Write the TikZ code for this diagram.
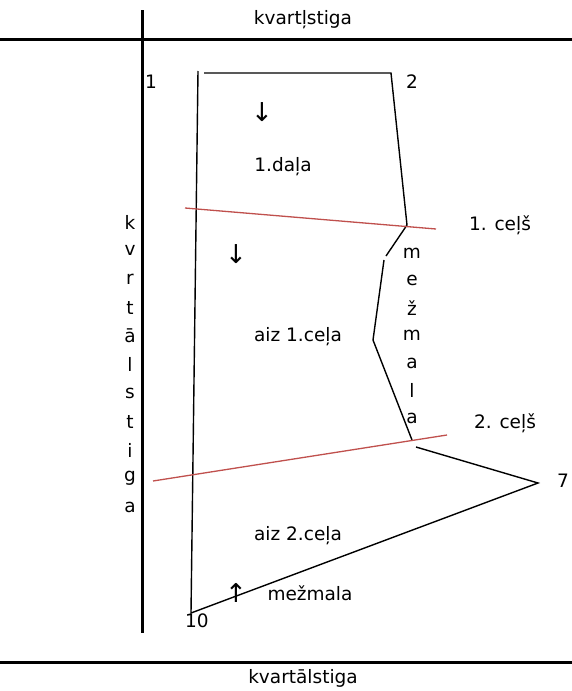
\documentclass[tikz,border=0pt]{standalone}
\usepackage{fontspec}
\setmainfont{DejaVu Sans}
\begin{document}
\begin{tikzpicture}[x=1pt,y=-1pt,
  thickline/.style={line width=3pt},
  thinline/.style={line width=1.4pt},
  redline/.style={line width=1.3pt,draw=roadred},
  lbl/.style={font=\fontsize{18.5}{22}\selectfont,inner sep=0pt},
  arr/.style={font=\fontsize{26}{30}\selectfont,inner sep=0pt}]
\definecolor{roadred}{RGB}{192,80,77}
\useasboundingbox (0,0) rectangle (572,691);
\fill[white] (0,0) rectangle (572,691);
% border roads
\coordinate (tl) at (0,39); \coordinate (tr) at (572,39);
\coordinate (bl) at (0,662); \coordinate (br) at (572,662);
\coordinate (vt) at (142,10); \coordinate (vb) at (142,633);
\draw[thickline] (tl) -- (tr);
\draw[thickline] (bl) -- (br);
\draw[thickline] (vt) -- (vb);
\node[lbl] (ktop) at (303,20) {kvartļstiga};
\node[lbl] (kbot) at (303,678) {kvartālstiga};
% vertical label
\foreach \ch [count=\i from 0] in {k,v,r,t,ā,l,s,t,i,g,a}
  \node[lbl] (kv\i) at (130,222+28.5*\i) {\ch};
\foreach \ch [count=\i from 0] in {m,e,ž,m,a,l,a}
  \node[lbl] (mz\i) at (412,253+27.5*\i) {\ch};
% polygon vertices
\coordinate (p1a) at (198,71);
\coordinate (p1b) at (204,73);
\coordinate (p2) at (391,73);
\coordinate (p3) at (407,225);
\coordinate (p4) at (386,256);
\coordinate (p4b) at (384,260);
\coordinate (p5) at (373,340);
\coordinate (p6) at (412,440);
\coordinate (p6b) at (416,447);
\coordinate (p7) at (538,483);
\coordinate (p10) at (191,613);
\draw[thinline] (p1b) -- (p2) -- (p3) -- (p4);
\draw[thinline] (p4b) -- (p5) -- (p6);
\draw[thinline] (p6b) -- (p7) -- (p10) -- (p1a);
% roads (red)
\coordinate (r1a) at (185,208); \coordinate (r1b) at (436,229);
\coordinate (r2a) at (153,481); \coordinate (r2b) at (447,435);
\draw[redline] (r1a) -- (r1b);
\draw[redline] (r2a) -- (r2b);
% labels
\node[lbl] (n1) at (151,82) {1};
\node[lbl] (n2) at (412,82) {2};
\node[lbl] (n7) at (563,481) {7};
\node[lbl] (n10) at (197,621) {10};
\node[lbl] (c1) at (500,225) {1. ceļš};
\node[lbl] (c2) at (505,423) {2. ceļš};
\node[lbl] (d1) at (283,167) {1.daļa};
\node[lbl] (a1) at (298,337) {aiz 1.ceļa};
\node[lbl] (a2) at (298,536) {aiz 2.ceļa};
\node[lbl] (mm) at (310,593) {mežmala};
\node[arr] (ar1) at (262,112) {↓};
\node[arr] (ar2) at (236,254) {↓};
\node[arr] (ar3) at (236,593) {↑};
\end{tikzpicture}
\end{document}
